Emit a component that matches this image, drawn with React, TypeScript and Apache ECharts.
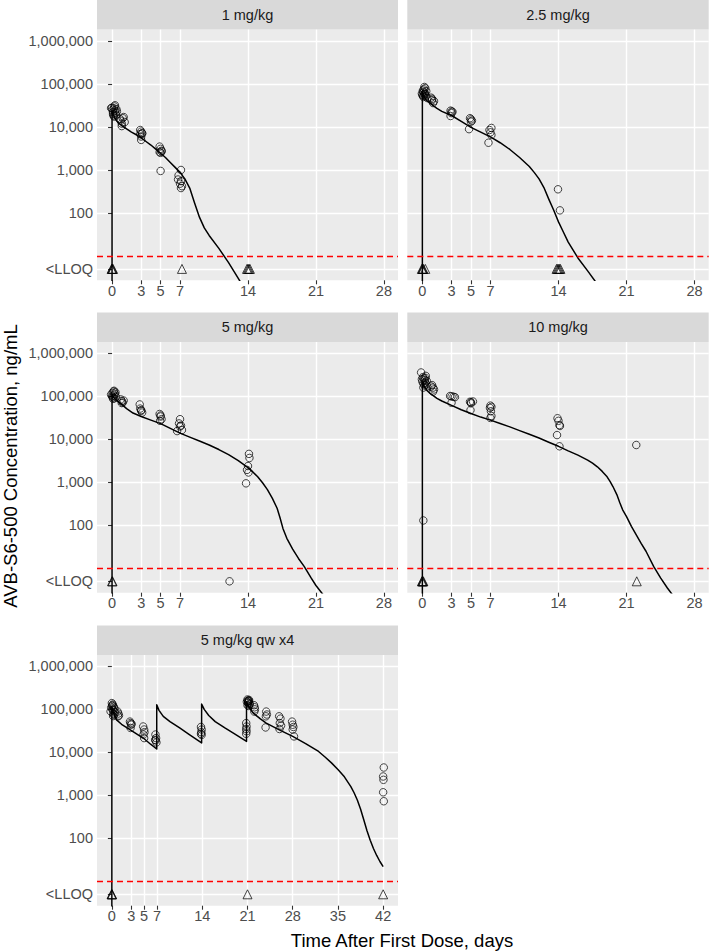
import { useEffect, useRef } from "react";
import * as echarts from "echarts";

// ---------- Data ----------
const panelTitles = ["1 mg/kg", "2.5 mg/kg", "5 mg/kg", "10 mg/kg", "5 mg/kg qw x4"];
const xBreaksShort = [0, 3, 5, 7, 14, 21, 28];
const xBreaksLong = [0, 3, 5, 7, 14, 21, 28, 35, 42];
const yBreaks = [5, 100, 1000, 10000, 100000, 1000000];
const yBreakLabels = ["<LLOQ", "100", "1,000", "10,000", "100,000", "1,000,000"];
const lloq = 10;
const blqPlotConc = 5;

// 1 mg/kg
const obsDay1 = [-0.1, 0.0, 0.05, 0.1, 0.1, 0.15, 0.2, 0.2, 0.25, 0.3, 0.3, 0.35, 0.4, 0.45, 0.5, 0.8, 0.9, 1.0, 1.0, 1.1, 1.2, 1.3, 2.9, 3.0, 3.1, 2.9, 3.0, 3.1, 3.0, 4.9, 5.0, 5.1, 4.9, 5.0, 5.1, 5.0, 7.1, 6.85, 6.8, 7.1, 7.0, 7.2, 7.1];
const obsConc1 = [27500, 28000, 25000, 22000, 20000, 18500, 27000, 17500, 30000, 24000, 32000, 21000, 19000, 26000, 23000, 15500, 14000, 12000, 10500, 16000, 17000, 13000, 8500, 7800, 7200, 6800, 6000, 7000, 5000, 3500, 3100, 2800, 2600, 2500, 2700, 950, 1000, 750, 600, 550, 480, 420, 380];
const blqDay1 = [-0.05, 0, 0.05, 0.1, 7.2, 13.9, 14.0, 14.1, 14.2];
const predDay1 = [0, 0, 0.15, 0.4, 0.7, 1, 1.5, 2, 2.5, 3, 3.5, 4, 4.5, 5, 5.5, 6, 6.5, 7, 7.5, 8, 8.5, 9, 9.5, 10, 11, 12, 13, 14];
const predConc1 = [0.001, 24000, 19000, 14500, 12200, 10800, 9000, 7600, 6600, 5600, 4600, 3800, 3050, 2450, 1950, 1500, 1150, 880, 620, 380, 170, 80, 45, 30, 15, 7, 3, 1.3];

// 2.5 mg/kg
const obsDay2 = [-0.05, 0.0, 0.05, 0.1, 0.1, 0.15, 0.2, 0.25, 0.3, 0.35, 0.4, 0.5, 0.2, 0.1, 0.3, 0.9, 1.0, 1.1, 1.0, 1.2, 2.9, 3.0, 3.1, 3.0, 2.9, 4.9, 5.0, 5.1, 5.0, 4.8, 7.1, 6.9, 7.0, 7.1, 6.8, 13.95, 14.15];
const obsConc2 = [60000, 55000, 70000, 50000, 65000, 75000, 58000, 62000, 80000, 52000, 68000, 47000, 85000, 53000, 57000, 48000, 42000, 36000, 45000, 40000, 24000, 23000, 22500, 21000, 18000, 16000, 15000, 14000, 13300, 8900, 9500, 8500, 7500, 6500, 4300, 355, 115];
const blqDay2 = [-0.05, 0, 0.05, 0.1, 0.3, 13.8, 13.9, 14.0, 14.1, 14.2];
const predDay2 = [0, 0, 0.15, 0.4, 0.8, 1.5, 2, 3, 4, 5, 6, 7, 8, 9, 10, 11, 11.5, 12, 12.5, 13, 13.5, 14, 14.5, 15, 16, 17, 18, 19];
const predConc2 = [0.001, 65000, 52000, 42000, 35500, 27000, 23000, 18500, 13500, 9800, 7600, 5900, 4300, 3000, 1950, 1200, 880, 620, 390, 210, 117, 62, 36, 21, 9, 4.5, 2.2, 1];

// 5 mg/kg
const obsDay3 = [-0.1, 0.0, 0.05, 0.1, 0.15, 0.2, 0.25, 0.3, 0.35, 0.4, 0.1, 0.2, 0.9, 1.0, 1.1, 1.0, 1.2, 2.85, 2.9, 3.0, 3.1, 3.0, 4.9, 5.0, 5.0, 5.1, 4.95, 7.0, 6.9, 7.1, 7.0, 7.2, 6.7, 14.1, 14.15, 14.0, 13.9, 14.05, 13.8, 12.1];
const obsConc3 = [110000, 100000, 120000, 95000, 130000, 105000, 90000, 115000, 125000, 98000, 88000, 135000, 85000, 78000, 72000, 70000, 80000, 65000, 52000, 46000, 42000, 48000, 39000, 36000, 34000, 29500, 27000, 29500, 23500, 21000, 20000, 16500, 15600, 4600, 3700, 2400, 1950, 1700, 950, 5];
const blqDay3 = [0, 0.05];
const predDay3 = [0, 0, 0.15, 0.45, 1, 1.5, 2.16, 3, 4, 5, 6, 7, 8, 9, 10, 11, 12, 13, 14, 14.5, 15, 15.5, 16, 16.5, 17, 17.3, 17.6, 18, 18.6, 19.2, 19.8, 20.5, 21, 21.7, 22.5];
const predConc3 = [0.001, 110000, 95000, 81000, 65000, 52000, 41000, 34000, 28000, 23300, 18000, 14000, 11300, 9200, 7400, 5800, 4400, 3200, 2200, 1750, 1350, 980, 680, 430, 250, 150, 85, 50, 28, 17, 11, 6, 4, 2.5, 1.4];

// 10 mg/kg
const obsDay4 = [-0.13, -0.05, 0.0, 0.05, 0.1, 0.15, 0.2, 0.25, 0.3, 0.35, 0.4, 0.45, 0.5, 0.1, 0.3, 1.0, 1.1, 1.2, 1.1, 0.9, 2.85, 3.0, 3.2, 3.35, 3.0, 4.9, 5.0, 5.2, 5.0, 4.95, 7.0, 7.1, 6.95, 7.05, 7.1, 7.0, 13.9, 14.0, 14.1, 14.15, 13.85, 14.1, 22.0, 0.1];
const obsConc4 = [360000, 250000, 220000, 280000, 200000, 260000, 180000, 240000, 210000, 300000, 190000, 230000, 170000, 160000, 270000, 183000, 160000, 145000, 129000, 170000, 102000, 100000, 98000, 96000, 71000, 75000, 73000, 76000, 69000, 48000, 61000, 57000, 54000, 45000, 35000, 31500, 31000, 27000, 21500, 20500, 12600, 6900, 7400, 130];
const blqDay4 = [-0.05, 0, 0.05, 0.1, 22.05];
const predDay4 = [0, 0, 0.2, 0.5, 0.8, 1.5, 2, 3, 4, 5, 6, 7, 8, 9, 10, 11, 12, 13, 14, 15, 16, 17, 17.5, 18, 18.5, 19, 19.3, 19.6, 20, 20.3, 20.6, 21, 21.5, 22, 22.5, 23, 23.8, 24.5, 25.2, 26, 27];
const predConc4 = [0.001, 220000, 170000, 135000, 117000, 90000, 78000, 62000, 49000, 40000, 33000, 28000, 23500, 19500, 16000, 13200, 10800, 8600, 6900, 5400, 4300, 3300, 2800, 2300, 1800, 1350, 1050, 800, 520, 340, 230, 160, 95, 60, 38, 25, 11, 6, 3.5, 2, 1];

// 5 mg/kg qw x4
const obsDay5 = [-0.2, -0.1, 0.0, 0.05, 0.1, 0.15, 0.2, 0.25, 0.3, 0.35, 0.4, 0.5, 0.1, 0.2, 0.9, 1.0, 1.1, 0.95, 2.8, 2.9, 3.0, 2.9, 3.05, 4.85, 5.0, 5.05, 4.9, 5.0, 6.75, 6.85, 6.8, 6.9, 6.7, 13.8, 13.9, 13.85, 13.9, 13.8, 20.8, 20.85, 20.8, 20.85, 20.8, 20.9, 21.0, 21.05, 21.1, 21.15, 21.2, 21.25, 21.3, 21.0, 21.1, 21.2, 21.35, 22.0, 22.1, 22.15, 22.05, 23.9, 24.0, 23.85, 23.8, 25.9, 26.1, 26.0, 26.2, 25.95, 27.9, 28.0, 28.1, 28.0, 28.2, 42.1, 42.0, 42.05, 42.0, 42.1];
const obsConc5 = [90000, 110000, 140000, 120000, 100000, 130000, 80000, 95000, 115000, 75000, 105000, 85000, 125000, 70000, 89000, 80000, 72000, 69000, 52000, 48000, 44000, 37000, 46000, 40000, 34000, 29500, 26000, 21500, 26000, 21500, 19000, 17000, 19500, 39000, 34000, 29500, 25500, 27000, 48000, 40000, 35000, 31000, 27000, 150000, 170000, 160000, 140000, 155000, 120000, 165000, 130000, 125000, 145000, 158000, 135000, 125000, 112000, 100000, 89000, 89000, 76000, 69000, 38000, 69000, 61000, 48000, 42000, 35000, 52000, 44000, 39000, 34000, 23500, 4450, 2750, 2300, 1180, 730];
const blqDay5 = [-0.05, 0, 0.05, 21.0, 42.0];
const predDay5 = [0, 0, 0.2, 0.73, 1.5, 2.8, 4, 4.86, 6, 6.95, 6.95, 7.3, 7.96, 9, 10.5, 12, 13.9, 13.9, 14.3, 15, 16, 17.5, 19, 20.85, 20.85, 21.2, 21.85, 23, 23.9, 26, 28, 30, 32, 33, 34, 35, 36, 37, 37.5, 38, 38.5, 39, 39.5, 40, 40.5, 41, 41.5, 42];
const predConc5 = [0.001, 115000, 85000, 57000, 45000, 34000, 26000, 21600, 15500, 12000, 128000, 95000, 69000, 52000, 37000, 26000, 16600, 133000, 100000, 72000, 52000, 37000, 27000, 18000, 150000, 115000, 83000, 60000, 48000, 33000, 23500, 16000, 10500, 7800, 5700, 4000, 2700, 1600, 1150, 780, 480, 270, 150, 90, 58, 40, 29, 22];

const obsDays = [obsDay1, obsDay2, obsDay3, obsDay4, obsDay5];
const obsConcs = [obsConc1, obsConc2, obsConc3, obsConc4, obsConc5];
const blqDays = [blqDay1, blqDay2, blqDay3, blqDay4, blqDay5];
const predDays = [predDay1, predDay2, predDay3, predDay4, predDay5];
const predConcs = [predConc1, predConc2, predConc3, predConc4, predConc5];
const xBreaksByPanel = [xBreaksShort, xBreaksShort, xBreaksShort, xBreaksShort, xBreaksLong];

// ---------- Layout ----------
const FONT = "'Liberation Sans', Arial, Helvetica, sans-serif";
const PLOT_H = 250.7;
const STRIP_H = 29.5;
const layout = [
  { left: 97, top: 29.6, width: 301 },
  { left: 407.3, top: 29.6, width: 301.4 },
  { left: 97, top: 342, width: 301 },
  { left: 407.3, top: 342, width: 301.4 },
  { left: 97, top: 655, width: 301 },
];
const xRanges = [
  [-1.55, 29.45],
  [-1.55, 29.45],
  [-1.55, 29.45],
  [-1.55, 29.45],
  [-2.3, 44.3],
];
const yRange = [0.434, 6.265];

const lg = (v: number) => Math.log10(v);

export default function App() {
  const ref = useRef<HTMLDivElement>(null);

  useEffect(() => {
    if (!ref.current) return;
    const chart = echarts.init(ref.current, undefined, { renderer: "svg" });
    const yTickVals = yBreaks.map(lg);
    const yFormatter = (v: number) => {
      const idx = yTickVals.findIndex((t) => Math.abs(t - v) < 1e-6);
      return idx >= 0 ? yBreakLabels[idx] : "";
    };

    const grid = layout.map((l) => ({
      left: l.left,
      top: l.top,
      width: l.width,
      height: PLOT_H,
      show: true,
      backgroundColor: "#EBEBEB",
      borderWidth: 0,
      containLabel: false,
    }));

    const xAxis = layout.map((_, i) => ({
      type: "value",
      gridIndex: i,
      min: xRanges[i][0],
      max: xRanges[i][1],
      axisLine: { show: false },
      axisTick: {
        show: true,
        length: 4,
        lineStyle: { color: "#333333", width: 1.1 },
        customValues: xBreaksByPanel[i],
      },
      axisLabel: {
        customValues: xBreaksByPanel[i],
        color: "#4D4D4D",
        fontSize: 14.5,
        fontFamily: FONT,
        margin: 3,
      },
      splitLine: { show: true, lineStyle: { color: "#FFFFFF", width: 1.4 } },
    }));

    const yAxis = layout.map((_, i) => {
      const leftCol = i % 2 === 0;
      return {
        type: "value",
        gridIndex: i,
        min: yRange[0],
        max: yRange[1],
        axisLine: { show: false },
        axisTick: {
          show: leftCol,
          length: 4,
          lineStyle: { color: "#333333", width: 1.1 },
          customValues: yTickVals,
        },
        axisLabel: {
          show: leftCol,
          customValues: yTickVals,
          formatter: yFormatter,
          color: "#4D4D4D",
          fontSize: 14.5,
          fontFamily: FONT,
          margin: 4,
        },
        splitLine: { show: true, lineStyle: { color: "#FFFFFF", width: 1.4 } },
      };
    });

    const series: any[] = [];
    layout.forEach((_, i) => {
      series.push({
        type: "line",
        xAxisIndex: i,
        yAxisIndex: i,
        data: predDays[i].map((d, k) => [d, lg(predConcs[i][k])]),
        showSymbol: false,
        symbol: "none",
        clip: true,
        smooth: false,
        lineStyle: { color: "#000000", width: 1.5, join: "round" },
        z: 3,
        silent: true,
      });
      series.push({
        type: "scatter",
        xAxisIndex: i,
        yAxisIndex: i,
        data: obsDays[i].map((d, k) => [d, lg(obsConcs[i][k])]),
        symbol: "circle",
        symbolSize: 7.5,
        itemStyle: { color: "rgba(0,0,0,0)", borderColor: "#000000", borderWidth: 0.9 },
        z: 4,
        silent: true,
      });
      series.push({
        type: "scatter",
        xAxisIndex: i,
        yAxisIndex: i,
        data: blqDays[i].map((d) => [d, lg(blqPlotConc)]),
        symbol: "triangle",
        symbolSize: 9,
        itemStyle: { color: "rgba(0,0,0,0)", borderColor: "#000000", borderWidth: 0.9 },
        z: 4,
        silent: true,
        markLine: {
          silent: true,
          symbol: "none",
          label: { show: false },
          lineStyle: { color: "#FF0000", type: [6, 4], width: 1.3, opacity: 1 },
          emphasis: { disabled: true },
          data: [{ yAxis: lg(lloq) }],
        },
      });
    });

    const graphic: any[] = [];
    layout.forEach((l, i) => {
      graphic.push({
        type: "rect",
        shape: { x: l.left, y: l.top - STRIP_H, width: l.width, height: STRIP_H },
        style: { fill: "#D9D9D9" },
        silent: true,
      });
      graphic.push({
        type: "text",
        x: l.left + l.width / 2,
        y: l.top - STRIP_H / 2,
        style: {
          text: panelTitles[i],
          fill: "#1A1A1A",
          font: `14.5px ${FONT}`,
          textAlign: "center",
          textVerticalAlign: "middle",
          align: "center",
          verticalAlign: "middle",
        },
        silent: true,
      });
    });
    graphic.push({
      type: "text",
      x: 10,
      y: 466,
      rotation: Math.PI / 2,
      style: {
        text: "AVB-S6-500 Concentration, ng/mL",
        fill: "#000000",
        font: `18.5px ${FONT}`,
        textAlign: "center",
        textVerticalAlign: "middle",
        align: "center",
        verticalAlign: "middle",
      },
      silent: true,
    });
    graphic.push({
      type: "text",
      x: 402,
      y: 940,
      style: {
        text: "Time After First Dose, days",
        fill: "#000000",
        font: `18.5px ${FONT}`,
        textAlign: "center",
        textVerticalAlign: "middle",
        align: "center",
        verticalAlign: "middle",
      },
      silent: true,
    });

    chart.setOption({
      animation: false,
      backgroundColor: "#FFFFFF",
      grid,
      xAxis,
      yAxis,
      series,
      graphic,
    });
    return () => chart.dispose();
  }, []);

  return (
    <div
      ref={ref}
      style={{ position: "absolute", left: 0, top: 0, width: 709, height: 951, background: "#FFFFFF" }}
    />
  );
}
